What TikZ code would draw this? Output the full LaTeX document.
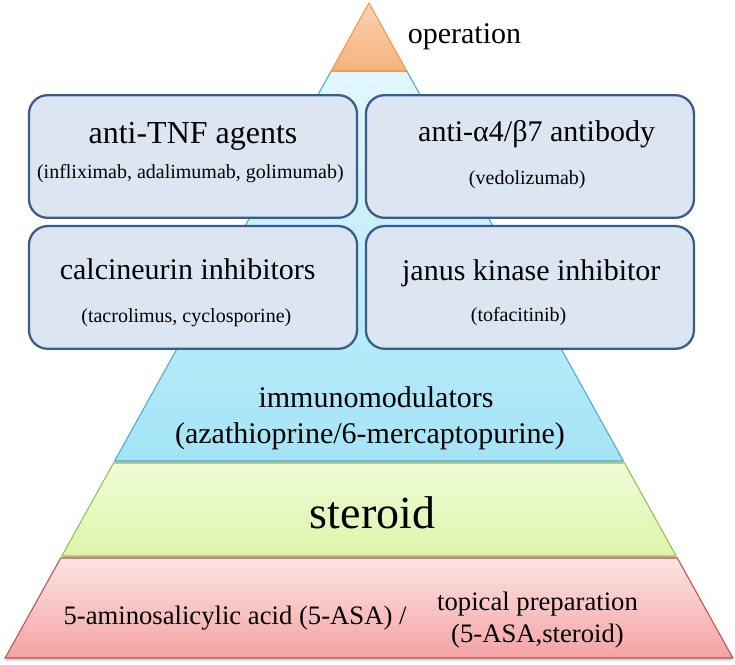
\documentclass[tikz,border=0pt]{standalone}
\usepackage{fontspec}
\setmainfont{Liberation Serif}
\usetikzlibrary{positioning,shadows}
\newcommand{\fsz}[1]{\fontsize{#1}{#1}\selectfont}
\definecolor{boxfill}{HTML}{DCE6F2}
\definecolor{boxline}{HTML}{385D8A}
\definecolor{opline}{HTML}{F79646}
\definecolor{optop}{HTML}{FAD3B0}
\definecolor{opbot}{HTML}{F6B27C}
\definecolor{imline}{HTML}{4BACC6}
\definecolor{imtop}{HTML}{E2F7FD}
\definecolor{imbot}{HTML}{A3E4F7}
\definecolor{stline}{HTML}{9BBB59}
\definecolor{sttop}{HTML}{EFFBD6}
\definecolor{stbot}{HTML}{DCF6AA}
\definecolor{asline}{HTML}{C0504D}
\definecolor{astop}{HTML}{FDE4E4}
\definecolor{asbot}{HTML}{F4A3A3}

\begin{document}
\begin{tikzpicture}[
  x=0.75pt,
  y=-0.75pt,
  every node/.style={inner sep=0pt, text=black},
  drugbox/.style={draw=boxline, fill=boxfill, line width=1.7pt, rounded corners=14pt,
                  minimum width=246pt, minimum height=92pt},
  drughead/.style={font=\fsz{22.5}, anchor=base},
  drugsub/.style={font=\fsz{15}, anchor=base},
  bandshape/.style={line width=0.8pt},
  bandshadow/.style={drop shadow={shadow xshift=0pt, shadow yshift=-2pt, opacity=0.35}}
]
  % ---- bounding box, same size as the slide picture (735 x 664 px) ----
  \path (0,0) rectangle (735,664);

  % ---- pyramid bands, apex at (369,3), sides drop 0.5555 px per px ----
  \path[bandshape, bandshadow, draw=imline, top color=imtop, bottom color=imbot]
    (331.2,71) -- (406.8,71) -- (623.4,461) -- (114.6,461) -- cycle;
  \path[bandshape, draw=opline, top color=optop, bottom color=opbot]
    (369,3) -- (406.8,71) -- (331.2,71) -- cycle;
  \path[bandshape, bandshadow, draw=stline, top color=sttop, bottom color=stbot]
    (113.5,463) -- (624.5,463) -- (676.2,556) -- (61.8,556) -- cycle;
  \path[bandshape, bandshadow, draw=asline, top color=astop, bottom color=asbot]
    (60.7,558) -- (677.3,558) -- (732.9,658) -- (5.1,658) -- cycle;

  % ---- biologic / small molecule boxes ----
  \node[drugbox] (tnfbox) at (193,156.5) {};
  \node[drugbox, right=5pt of tnfbox] (intbox) {};
  \node[drugbox, below=4.5pt of tnfbox] (cnibox) {};
  \node[drugbox, right=5pt of cnibox] (jakbox) {};

  \node[drughead, font=\fsz{24}] (tnf) at ([yshift=-36.75pt]tnfbox.north) {anti-TNF agents};
  \node[drugsub] (tnfsub) at ([xshift=-2pt, yshift=-63pt]tnfbox.north)
    {(infliximab, adalimumab, golimumab)};
  \node[drughead] (int) at ([xshift=5pt, yshift=-35.25pt]intbox.north) {anti-α4/β7 antibody};
  \node[drugsub] (intsub) at ([xshift=-2pt, yshift=-67.5pt]intbox.north) {(vedolizumab)};
  \node[drughead] (cni) at ([xshift=-4pt, yshift=-41.25pt]cnibox.north) {calcineurin inhibitors};
  \node[drugsub] (cnisub) at ([xshift=-5pt, yshift=-73.5pt]cnibox.north)
    {(tacrolimus, cyclosporine)};
  \node[drughead] (jak) at ([xshift=1pt, yshift=-42pt]jakbox.north) {janus kinase inhibitor};
  \node[drugsub] (jaksub) at ([xshift=-8.5pt, yshift=-72.75pt]jakbox.north) {(tofacitinib)};

  % ---- band labels ----
  \node[drughead] (operation) at (464.5,43) {operation};
  \node[drughead] (immuno) at (376,407) {immunomodulators};
  \node[drughead] (immunosub) at (370,443) {(azathioprine/6-mercaptopurine)};
  \node[font=\fsz{34.5}, anchor=base] (steroid) at (372.5,528) {steroid};
  \node[font=\fsz{20}, anchor=base] (asa) at (235,624) {5-aminosalicylic acid (5-ASA) /};
  \node[font=\fsz{20}, anchor=base] (topical) at (537.5,610) {topical preparation};
  \node[font=\fsz{20}, anchor=base] (topicalsub) at (537.5,642) {(5-ASA,steroid)};
\end{tikzpicture}
\end{document}
